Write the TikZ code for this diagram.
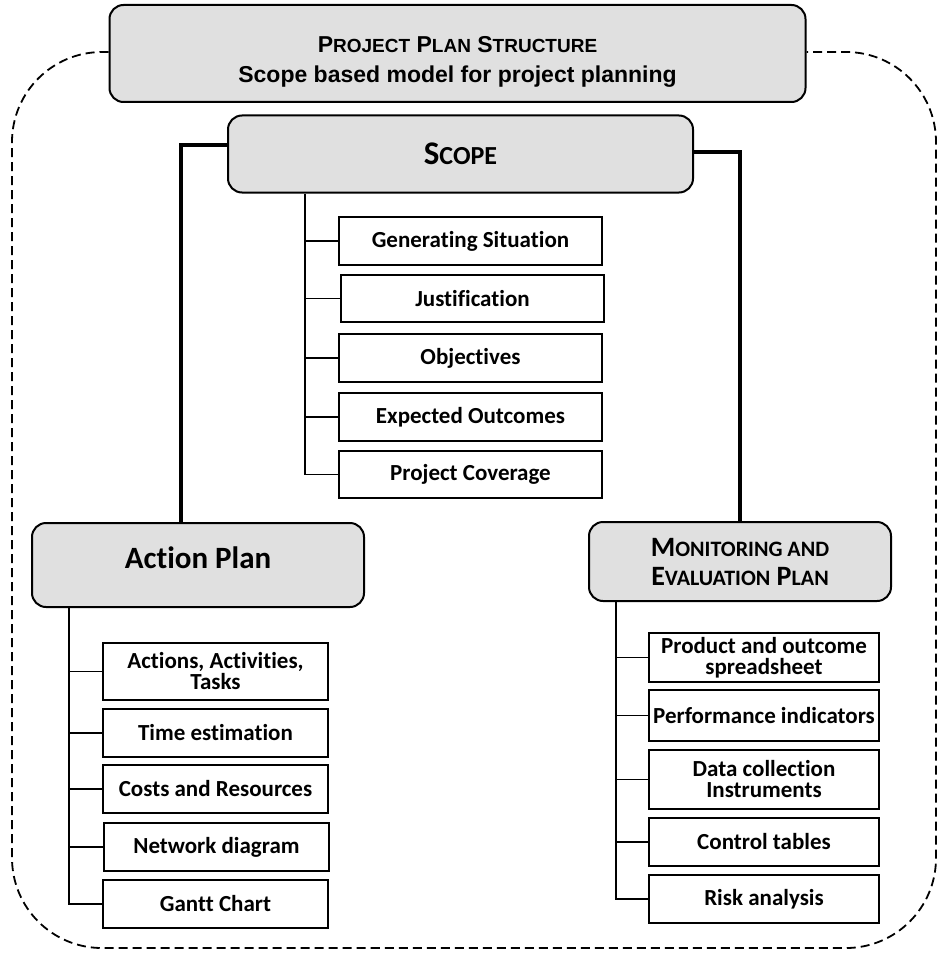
\documentclass[tikz,border=0pt]{standalone}
\usepackage{fontspec}
\setmainfont{Carlito}[Ligatures={NoCommon}]
\newfontfamily\arialf{Liberation Sans}
\definecolor{boxgray}{RGB}{224,224,224}
\newcommand\scB[1]{{\fontsize{19}{30}\selectfont #1}}
\newcommand\mcB[1]{{\fontsize{22}{29}\selectfont #1}}
\begin{document}
\begin{tikzpicture}[x=1pt,y=-1pt,
  grbox/.style={draw, line width=2pt, rounded corners=14pt, fill=boxgray, inner sep=0pt, align=center},
  child/.style={draw, line width=1.7pt, inner sep=0pt, align=center,
    font=\fontsize{23}{21}\selectfont\bfseries},
  thinl/.style={line width=1.7pt},
  thickl/.style={line width=3.2pt},
  outline/.style={line width=1.8pt, dash pattern=on 9pt off 5pt, rounded corners=90pt}]
\useasboundingbox (0,0) rectangle (938,955);

% title
\node[grbox, minimum width=696pt, minimum height=97pt] (top) at (457.5,53.5) {};
\node[font=\arialf\bfseries\fontsize{23}{30}\selectfont, align=center] (toptxt) at (457.5,62)
  {P\scB{ROJECT} P\scB{LAN} S\scB{TRUCTURE}\\
   Scope based model for project planning};

% dashed outline
\draw[outline] ([yshift=1.5pt]top.west) -- (12,52) -- (12,948) -- (936,948) -- (936,52) -- ([yshift=1.5pt]top.east);

% scope
\node[grbox, minimum width=465pt, minimum height=77pt,
  font=\bfseries\fontsize{33}{34}\selectfont] (scope) at (460.5,154) {S{\fontsize{26}{34}\selectfont COPE}};

\node[child, minimum width=263pt, minimum height=48pt] (gs) at (470.5,241) {Generating Situation};
\node[child, minimum width=263pt, minimum height=47pt] (ju) at (472.5,298.5) {Justification};
\node[child, minimum width=263pt, minimum height=48pt] (ob) at (470.5,358) {Objectives};
\node[child, minimum width=263pt, minimum height=48pt] (eo) at (470.5,417) {Expected Outcomes};
\node[child, minimum width=263pt, minimum height=47pt] (pc) at (470.5,474.5) {Project Coverage};

\coordinate (st) at ([xshift=78pt]scope.south west);
\draw[thinl] (st) |- (pc.west);
\foreach \n in {gs,ju,ob,eo} \draw[thinl] (\n.west) -- (\n.west -| st);

% action plan
\node[grbox, minimum width=332pt, minimum height=84pt] (ap) at (198,565) {};
\node[font=\fontsize{31}{33}\selectfont\bfseries] (aptxt) at (198,558) {Action Plan};

\node[child, minimum width=225pt, minimum height=57pt] (aa) at (215.5,671.5) {Actions, Activities,\\Tasks};
\node[child, minimum width=225pt, minimum height=48pt] (te) at (215.5,733) {Time estimation};
\node[child, minimum width=225pt, minimum height=48pt] (cr) at (215.5,789) {Costs and Resources};
\node[child, minimum width=225pt, minimum height=48pt] (nd) at (216.5,847) {Network diagram};
\node[child, minimum width=225pt, minimum height=48pt] (gc) at (215.5,904) {Gantt Chart};

\coordinate (at) at ([xshift=38pt]ap.south west);
\draw[thinl] (at) |- (gc.west);
\foreach \n in {aa,te,cr,nd} \draw[thinl] (\n.west) -- (\n.west -| at);

% monitoring
\node[grbox, minimum width=302pt, minimum height=79pt, font=\bfseries\fontsize{28}{29}\selectfont] (me) at (740,561.5)
  {M\mcB{ONITORING AND}\\E\mcB{VALUATION} P\mcB{LAN}};

\node[child, minimum width=230pt, minimum height=49pt] (pr) at (764,657.5) {Product and outcome\\spreadsheet};
\node[child, minimum width=230pt, minimum height=51pt] (pi) at (764,715.5) {Performance indicators};
\node[child, minimum width=230pt, minimum height=59pt] (dc) at (764,779.5) {Data collection\\Instruments};
\node[child, minimum width=230pt, minimum height=48pt] (ct) at (764,842) {Control tables};
\node[child, minimum width=230pt, minimum height=48pt] (ra) at (764,899) {Risk analysis};

\coordinate (mt) at ([xshift=28pt]me.south west);
\draw[thinl] (mt) |- (ra.west);
\foreach \n in {pr,pi,dc,ct} \draw[thinl] (\n.west) -- (\n.west -| mt);

% thick connectors
\draw[thickl] ([yshift=9pt]scope.west) -| ([xshift=-17pt]ap.north);
\draw[thickl] ([yshift=2pt]scope.east) -| (me.north);
\end{tikzpicture}
\end{document}
